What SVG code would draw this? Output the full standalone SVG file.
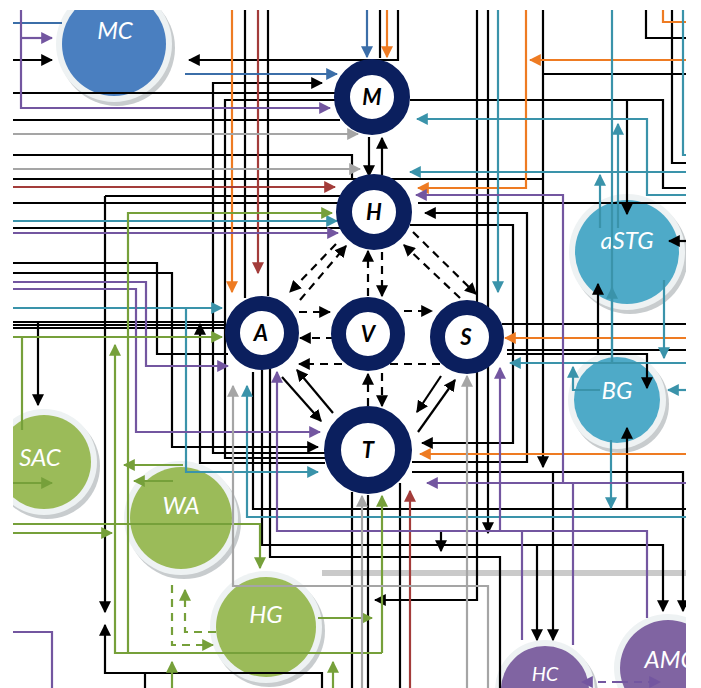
<svg xmlns="http://www.w3.org/2000/svg" width="701" height="688" viewBox="0 0 701 688">
<defs>
<clipPath id="clip"><rect x="13" y="10" width="673" height="678"/></clipPath>
<marker id="mk" viewBox="0 0 10 10" refX="9" refY="5" markerWidth="12" markerHeight="12" markerUnits="userSpaceOnUse" orient="auto"><polygon points="0,0 10,5 0,10" fill="#000"/></marker>
<marker id="mo" viewBox="0 0 10 10" refX="9" refY="5" markerWidth="12" markerHeight="12" markerUnits="userSpaceOnUse" orient="auto"><polygon points="0,0 10,5 0,10" fill="#ee7b22"/></marker>
<marker id="mr" viewBox="0 0 10 10" refX="9" refY="5" markerWidth="12" markerHeight="12" markerUnits="userSpaceOnUse" orient="auto"><polygon points="0,0 10,5 0,10" fill="#a33c3a"/></marker>
<marker id="ms" viewBox="0 0 10 10" refX="9" refY="5" markerWidth="12" markerHeight="12" markerUnits="userSpaceOnUse" orient="auto"><polygon points="0,0 10,5 0,10" fill="#3b6ea8"/></marker>
<marker id="mt" viewBox="0 0 10 10" refX="9" refY="5" markerWidth="12" markerHeight="12" markerUnits="userSpaceOnUse" orient="auto"><polygon points="0,0 10,5 0,10" fill="#3a93aa"/></marker>
<marker id="mp" viewBox="0 0 10 10" refX="9" refY="5" markerWidth="12" markerHeight="12" markerUnits="userSpaceOnUse" orient="auto"><polygon points="0,0 10,5 0,10" fill="#7356a0"/></marker>
<marker id="mg" viewBox="0 0 10 10" refX="9" refY="5" markerWidth="12" markerHeight="12" markerUnits="userSpaceOnUse" orient="auto"><polygon points="0,0 10,5 0,10" fill="#76a03a"/></marker>
<marker id="my" viewBox="0 0 10 10" refX="9" refY="5" markerWidth="12" markerHeight="12" markerUnits="userSpaceOnUse" orient="auto"><polygon points="0,0 10,5 0,10" fill="#a5a5a5"/></marker>
</defs>
<style>
.c path{fill:none;stroke-width:2.2}
.k{stroke:#000}.o{stroke:#ee7b22}.r{stroke:#a33c3a}.s{stroke:#3b6ea8}.t{stroke:#3a93aa}.p{stroke:#7356a0}.g{stroke:#76a03a}.y{stroke:#a5a5a5}
.d{stroke-dasharray:8 6}
.sh{fill:#9aa3a6;opacity:.55}
.hl{fill:#eef2f3}
.blue{fill:#4a7fc0}.cyan{fill:#4eaac8}.grn{fill:#9bbb59}.pur{fill:#8064a2}
.lbl{font-family:Lato,"Open Sans",sans-serif;font-style:italic;font-size:24px;fill:#fff;text-anchor:middle}
.ring{fill:#fff;stroke:#0b1f5e}
.rl{font-family:Lato,"Liberation Sans",sans-serif;font-style:italic;font-weight:bold;font-size:22px;fill:#000;text-anchor:middle}
</style>
<rect width="701" height="688" fill="#fff"/>
<g clip-path="url(#clip)">
<g id="MC"><circle class="sh" cx="117" cy="48" r="58"/><circle class="hl" cx="114" cy="44" r="58"/><circle class="blue" cx="114" cy="44" r="52"/><text class="lbl" x="115" y="39">MC</text></g>
<g id="aSTG"><circle class="sh" cx="630" cy="256" r="58"/><circle class="hl" cx="627" cy="252" r="58"/><circle class="cyan" cx="627" cy="252" r="52"/><text class="lbl" x="627" y="249">aSTG</text></g>
<g id="BG"><circle class="sh" cx="620" cy="404" r="49"/><circle class="hl" cx="617" cy="400" r="49"/><circle class="cyan" cx="617" cy="400" r="43"/><text class="lbl" x="617" y="399">BG</text></g>
<g id="SAC"><circle class="sh" cx="47" cy="466" r="53"/><circle class="hl" cx="44" cy="462" r="53"/><circle class="grn" cx="44" cy="462" r="47"/><text class="lbl" x="40" y="466">SAC</text></g>
<g id="WA"><circle class="sh" cx="184" cy="522" r="57"/><circle class="hl" cx="181" cy="518" r="57"/><circle class="grn" cx="181" cy="518" r="51"/><text class="lbl" x="181" y="514">WA</text></g>
<g id="HG"><circle class="sh" cx="269" cy="631" r="56"/><circle class="hl" cx="266" cy="627" r="56"/><circle class="grn" cx="266" cy="627" r="50"/><text class="lbl" x="266" y="623">HG</text></g>
<g id="HC"><circle class="sh" cx="548" cy="694" r="50"/><circle class="hl" cx="545" cy="690" r="50"/><circle class="pur" cx="545" cy="690" r="44"/><text class="lbl" x="545" y="681" style="font-size:20px">HC</text></g>
<g id="AMC"><circle class="sh" cx="671" cy="672" r="54"/><circle class="hl" cx="668" cy="668" r="54"/><circle class="pur" cx="668" cy="668" r="48"/><text class="lbl" x="670" y="668">AMC</text></g>

<g id="connectors" class="c">
<path class="y" d="M322,573H686" style="stroke:#cacaca;stroke-width:6"/>
<path class="k" d="M398,10V60H189" marker-end="url(#mk)"/>
<path class="k" d="M380,10V58"/>
<path class="k" d="M13,60H52" marker-end="url(#mk)"/>
<path class="k" d="M325,453H213V83H322" marker-end="url(#mk)"/>
<path class="k" d="M13,93H336"/>
<path class="k" d="M325,458H225V100H336"/>
<path class="k" d="M13,120H340"/>
<path class="k" d="M13,155H352V178"/>
<path class="k" d="M13,179H543"/>
<path class="k" d="M543,10V467" marker-end="url(#mk)"/>
<path class="k" d="M105,196H345"/>
<path class="k" d="M105,196V612" marker-end="url(#mk)"/>
<path class="k" d="M13,203H340"/>
<path class="k" d="M13,228H340"/>
<path class="k" d="M245,10V298"/>
<path class="k" d="M268,10V296"/>
<path class="k" d="M477,10V600H375" marker-end="url(#mk)"/>
<path class="k" d="M488,10V533" marker-end="url(#mk)"/>
<path class="k" d="M686,74H543"/>
<path class="k" d="M410,100H663V188H686"/>
<path class="k" d="M627,100V214" marker-end="url(#mk)"/>
<path class="k" d="M646,10V38H686"/>
<path class="k" d="M672,10V163H686"/>
<path class="k" d="M418,203H686"/>
<path class="k" d="M412,462H527V213H425" marker-end="url(#mk)"/>
<path class="k" d="M410,225H513V443H422" marker-end="url(#mk)"/>
<path class="k" d="M502,324H686"/>
<path class="k" d="M507,350H686"/>
<path class="k" d="M507,354H647V388" marker-end="url(#mk)"/>
<path class="k" d="M598,354V284" marker-end="url(#mk)"/>
<path class="k" d="M686,241H669" marker-end="url(#mk)"/>
<path class="k" d="M253,372V509H686"/>
<path class="k" d="M627,472V509"/>
<path class="k" d="M627,509V428" marker-end="url(#mk)"/>
<path class="k" d="M412,472H683V611" marker-end="url(#mk)"/>
<path class="k" d="M553,472V640" marker-end="url(#mk)"/>
<path class="k" d="M262,370V545H663V611" marker-end="url(#mk)"/>
<path class="k" d="M537,545V640" marker-end="url(#mk)"/>
<path class="k" d="M441,530V551" marker-end="url(#mk)"/>
<path class="k" d="M270,369V557H500V688"/>
<path class="k" d="M400,688V483"/>
<path class="k" d="M352,688V492"/>
<path class="k" d="M368,688V495"/>
<path class="k" d="M13,263H157V354H228"/>
<path class="k" d="M13,273H172V447H318" marker-end="url(#mk)"/>
<path class="k" d="M13,322H226"/>
<path class="k" d="M13,325H226"/>
<path class="k" d="M13,328H226"/>
<path class="k" d="M38,322V405" marker-end="url(#mk)"/>
<path class="k" d="M325,463H200V324" marker-end="url(#mk)"/>
<path class="k" d="M322,688V673H105V625" marker-end="url(#mk)"/>
<path class="k" d="M145,673V688"/>
<path class="k" d="M369,137V176" marker-end="url(#mk)"/>
<path class="k" d="M382,175V138" marker-end="url(#mk)"/>
<path class="k" d="M282,377L321,421" marker-end="url(#mk)"/>
<path class="k" d="M333,413L297,370" marker-end="url(#mk)"/>
<path class="k" d="M441,376L417,412" marker-end="url(#mk)"/>
<path class="k" d="M418,432L455,380" marker-end="url(#mk)"/>
<path class="k d" d="M300,300L346,246" marker-end="url(#mk)"/>
<path class="k d" d="M336,244L290,292" marker-end="url(#mk)"/>
<path class="k d" d="M368,296V251" marker-end="url(#mk)"/>
<path class="k d" d="M382,252V296" marker-end="url(#mk)"/>
<path class="k d" d="M413,232L476,294" marker-end="url(#mk)"/>
<path class="k d" d="M460,298L404,245" marker-end="url(#mk)"/>
<path class="k d" d="M299,312H330" marker-end="url(#mk)"/>
<path class="k d" d="M334,338H300" marker-end="url(#mk)"/>
<path class="k d" d="M404,311H432" marker-end="url(#mk)"/>
<path class="k d" d="M440,364H299" marker-end="url(#mk)"/>
<path class="k d" d="M368,406V374" marker-end="url(#mk)"/>
<path class="k d" d="M382,373V406" marker-end="url(#mk)"/>
<path class="o" d="M387,10V57" marker-end="url(#mo)"/>
<path class="o" d="M232,10V292" marker-end="url(#mo)"/>
<path class="o" d="M526,10V188H418" marker-end="url(#mo)"/>
<path class="o" d="M686,60H530" marker-end="url(#mo)"/>
<path class="o" d="M663,10V22H686"/>
<path class="o" d="M686,338H505" marker-end="url(#mo)"/>
<path class="o" d="M686,454H420" marker-end="url(#mo)"/>
<path class="r" d="M13,187H335" marker-end="url(#mr)"/>
<path class="r" d="M258,10V273" marker-end="url(#mr)"/>
<path class="r" d="M410,688V491" marker-end="url(#mr)"/>
<path class="s" d="M367,10V57" marker-end="url(#ms)"/>
<path class="s" d="M13,23H62"/>
<path class="s" d="M185,74H337" marker-end="url(#ms)"/>
<path class="t" d="M13,221H337" marker-end="url(#mt)"/>
<path class="t" d="M498,10V292" marker-end="url(#mt)"/>
<path class="t" d="M686,195H647V119H417" marker-end="url(#mt)"/>
<path class="t" d="M612,10V362"/>
<path class="t" d="M612,362V288" marker-end="url(#mt)"/>
<path class="t" d="M618,228V124" marker-end="url(#mt)"/>
<path class="t" d="M600,228V175" marker-end="url(#mt)"/>
<path class="t" d="M686,172H410" marker-end="url(#mt)"/>
<path class="t" d="M683,10V155H686"/>
<path class="t" d="M686,363H510" marker-end="url(#mt)"/>
<path class="t" d="M664,280V358" marker-end="url(#mt)"/>
<path class="t" d="M600,390H573V367" marker-end="url(#mt)"/>
<path class="t" d="M686,390H668" marker-end="url(#mt)"/>
<path class="t" d="M611,440V508" marker-end="url(#mt)"/>
<path class="t" d="M686,517H247V386" marker-end="url(#mt)"/>
<path class="t" d="M13,308H222" marker-end="url(#mt)"/>
<path class="t" d="M186,308V472H318" marker-end="url(#mt)"/>
<path class="p" d="M21,10V108H330" marker-end="url(#mp)"/>
<path class="p" d="M21,38H52" marker-end="url(#mp)"/>
<path class="p" d="M13,233H338" marker-end="url(#mp)"/>
<path class="p" d="M686,483H427" marker-end="url(#mp)"/>
<path class="p" d="M563,483V195H416" marker-end="url(#mp)"/>
<path class="p" d="M573,483V645"/>
<path class="p" d="M647,618V531H277V372" marker-end="url(#mp)"/>
<path class="p" d="M522,531V640"/>
<path class="p" d="M500,531V368" marker-end="url(#mp)"/>
<path class="p" d="M13,282H146V366H228" marker-end="url(#mp)"/>
<path class="p" d="M13,289H136V432H320" marker-end="url(#mp)"/>
<path class="p" d="M13,632H52V688"/>
<path class="p d" d="M620,682H582" marker-end="url(#mp)"/>
<path class="p d" d="M620,682H660" marker-end="url(#mp)"/>
<path class="g" d="M128,653V213H332" marker-end="url(#mg)"/>
<path class="g" d="M13,337H222" marker-end="url(#mg)"/>
<path class="g" d="M22,337V430"/>
<path class="g" d="M13,483H52" marker-end="url(#mg)"/>
<path class="g" d="M13,524H260V568" marker-end="url(#mg)"/>
<path class="g" d="M13,533H112" marker-end="url(#mg)"/>
<path class="g" d="M183,465H124" marker-end="url(#mg)"/>
<path class="g" d="M173,481H134" marker-end="url(#mg)"/>
<path class="g d" d="M172,585V645H213" marker-end="url(#mg)"/>
<path class="g d" d="M216,632H185V590" marker-end="url(#mg)"/>
<path class="g" d="M382,653H115V345" marker-end="url(#mg)"/>
<path class="g" d="M382,653V496" marker-end="url(#mg)"/>
<path class="g" d="M318,618H372" marker-end="url(#mg)"/>
<path class="g" d="M172,688V662" marker-end="url(#mg)"/>
<path class="g" d="M333,688V662" marker-end="url(#mg)"/>
<path class="y" d="M13,134H358" marker-end="url(#my)"/>
<path class="y" d="M13,169H360" marker-end="url(#my)"/>
<path class="y" d="M467,688V376" marker-end="url(#my)"/>
<path class="y" d="M362,688V496" marker-end="url(#my)"/>
<path class="y" d="M488,688V586H233V386" marker-end="url(#my)"/>
</g>

<g id="M"><circle class="ring" cx="372" cy="97" r="30" stroke-width="16"/><text class="rl" x="372" y="105">M</text></g>
<g id="H"><circle class="ring" cx="374" cy="212" r="30" stroke-width="16"/><text class="rl" x="374" y="220">H</text></g>
<g id="A"><circle class="ring" cx="262" cy="333" r="29.5" stroke-width="15"/><text class="rl" x="261" y="341">A</text></g>
<g id="V"><circle class="ring" cx="368" cy="334" r="29.5" stroke-width="15"/><text class="rl" x="368" y="342">V</text></g>
<g id="S"><circle class="ring" cx="467" cy="337" r="29.5" stroke-width="15"/><text class="rl" x="466" y="345">S</text></g>
<g id="T"><circle class="ring" cx="368" cy="450" r="35.5" stroke-width="17"/><text class="rl" x="368" y="458">T</text></g>
</g>
</svg>
